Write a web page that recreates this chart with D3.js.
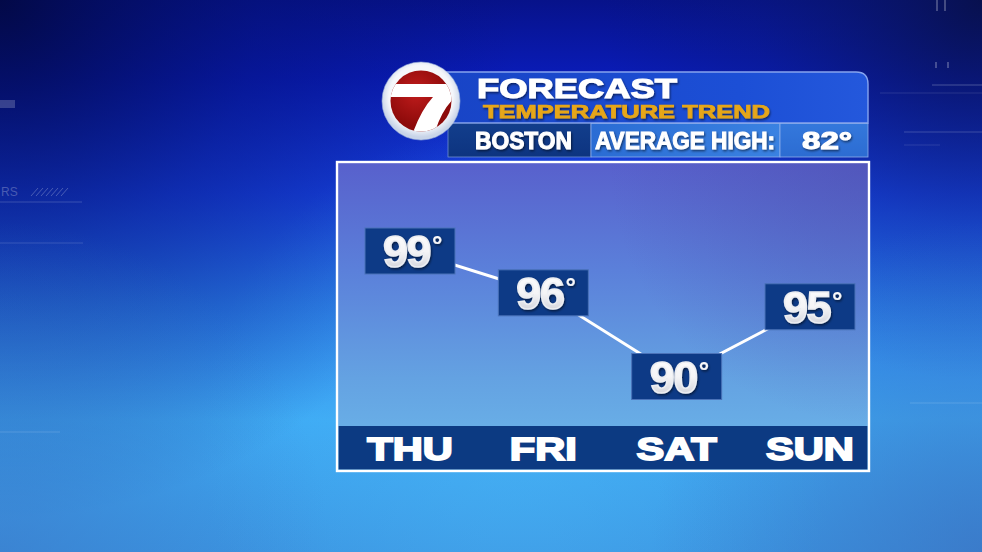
<!DOCTYPE html>
<html><head><meta charset="utf-8">
<script src="https://cdn.jsdelivr.net/npm/d3@7/dist/d3.min.js"></script>
<style>html,body{margin:0;padding:0;background:#0a1a90;overflow:hidden}svg{display:block}</style>
</head><body>
<svg id="c" width="982" height="552"></svg>
<script>
// ---- data ----
const days = ["THU", "FRI", "SAT", "SUN"];
const highs = [99, 96, 90, 95];
const city = "BOSTON";
const averageHighLabel = "AVERAGE HIGH:";
const averageHigh = 82;
const titleMain = "FORECAST";
const titleSub = "TEMPERATURE TREND";

const svg = d3.select("#c");
const defs = svg.append("defs");
const FONT = "'Liberation Sans', Arial, sans-serif";

function lin(id, x1, y1, x2, y2, stops) {
  const g = defs.append("linearGradient").attr("id", id)
    .attr("x1", x1).attr("y1", y1).attr("x2", x2).attr("y2", y2);
  stops.forEach(s => g.append("stop").attr("offset", s[0]).attr("stop-color", s[1]).attr("stop-opacity", s[2] == null ? 1 : s[2]));
  return g;
}
function rad(id, cx, cy, r, stops) {
  const g = defs.append("radialGradient").attr("id", id).attr("gradientUnits", "userSpaceOnUse")
    .attr("cx", cx).attr("cy", cy).attr("r", r);
  stops.forEach(s => g.append("stop").attr("offset", s[0]).attr("stop-color", s[1]).attr("stop-opacity", s[2] == null ? 1 : s[2]));
  return g;
}

lin("bg", 0, 0, 0, 1, [[0, "#07128a"], [0.14, "#0a1cb8"], [0.35, "#1844e4"], [0.55, "#2a7cea"], [0.76, "#3eaaf4"], [1, "#3c96e2"]]);
rad("tl", 0, 0, 520, [[0, "#020840", 0.9], [0.5, "#031070", 0.45], [1, "#031070", 0]]);
rad("tr", 982, 0, 380, [[0, "#081048", 0.9], [0.6, "#0a1a70", 0.3], [1, "#0a1a70", 0]]);
rad("br", 982, 552, 330, [[0, "#3a70c0", 0.7], [1, "#3a70c0", 0]]);
rad("bl", 0, 552, 330, [[0, "#3a78c8", 0.6], [1, "#3a78c8", 0]]);
rad("glow", 520, 440, 320, [[0, "#4ab8f8", 0.5], [1, "#4ab8f8", 0]]);
lin("panel", 0, 0, 0, 1, [[0, "#5860cc"], [0.35, "#5b80da"], [0.7, "#64a2e2"], [1, "#6cb8ea"]]);
rad("panelTR", 869, 163, 260, [[0, "#4a4aa8", 0.45], [1, "#4a4aa8", 0]]);
lin("banner", 0, 0, 1, 0, [[0, "#1844c6"], [0.7, "#1c4fd6"], [1, "#2458dc"]]);
lin("avg", 0, 0, 1, 0, [[0, "#2a6cd4"], [1, "#3a82e2"]]);
lin("avgVal", 0, 0, 0, 1, [[0, "#3478dc"], [1, "#2c6cd2"]]);
lin("boston", 0, 0, 0, 1, [[0, "#123e8c"], [1, "#0d3480"]]);
lin("numTxt", 0, 0, 0, 1, [[0, "#ffffff"], [0.5, "#f4f4f6"], [1, "#c4c6d0"]]);
rad("logoWhite", 421, 97, 40, [[0, "#ffffff"], [0.8, "#f4f6fa"], [1, "#c8d4e8"]]);
rad("logoRed", 416, 92, 34, [[0, "#c01c1c"], [1, "#8c0a0a"]]);

const sh = defs.append("filter").attr("id", "shadow").attr("x", "-20%").attr("y", "-20%").attr("width", "140%").attr("height", "140%");
sh.append("feDropShadow").attr("dx", 1).attr("dy", 1.5).attr("stdDeviation", 1).attr("flood-color", "#000").attr("flood-opacity", 0.55);

defs.append("clipPath").attr("id", "logoClip").append("circle").attr("cx", 421).attr("cy", 101).attr("r", 30.5);

// ---- background ----
svg.append("rect").attr("width", 982).attr("height", 552).attr("fill", "url(#bg)");
svg.append("rect").attr("width", 982).attr("height", 552).attr("fill", "url(#glow)");
svg.append("rect").attr("width", 982).attr("height", 552).attr("fill", "url(#tl)");
svg.append("rect").attr("width", 982).attr("height", 552).attr("fill", "url(#tr)");
svg.append("rect").attr("width", 982).attr("height", 552).attr("fill", "url(#br)");
svg.append("rect").attr("width", 982).attr("height", 552).attr("fill", "url(#bl)");

// faint decorative lines
const deco = svg.append("g").attr("stroke", "#ffffff").attr("fill", "none");
[[0, 202, 82, 202, 0.18], [0, 243, 83, 243, 0.15], [0, 432, 60, 432, 0.15], [932, 85, 982, 85, 0.25], [904, 132, 982, 132, 0.2], [904, 145, 940, 145, 0.12],
 [880, 93, 982, 93, 0.12], [910, 403, 982, 403, 0.15]].forEach(l =>
  deco.append("line").attr("x1", l[0]).attr("y1", l[1]).attr("x2", l[2]).attr("y2", l[3]).attr("stroke-opacity", l[4]).attr("stroke-width", 1.2));
[[937, 0, 937, 11], [945, 0, 945, 11], [936, 62, 936, 68], [948, 62, 948, 68]].forEach(l =>
  deco.append("line").attr("x1", l[0]).attr("y1", l[1]).attr("x2", l[2]).attr("y2", l[3]).attr("stroke-opacity", 0.35).attr("stroke-width", 1.4));
deco.append("rect").attr("x", 0).attr("y", 100).attr("width", 15).attr("height", 8).attr("fill", "#ffffff").attr("fill-opacity", 0.2).attr("stroke", "none");
for (let i = 0; i < 7; i++) deco.append("line").attr("x1", 31 + i * 5).attr("y1", 196).attr("x2", 38 + i * 5).attr("y2", 188).attr("stroke-opacity", 0.25);
deco.append("text").attr("x", 1).attr("y", 196).attr("font-family", FONT).attr("font-size", 12).attr("fill", "#ffffff").attr("fill-opacity", 0.25).attr("stroke", "none").text("RS");

// ---- chart panel ----
const panel = {x: 337, y: 162, w: 532, h: 309};
svg.append("rect").attr("x", panel.x).attr("y", panel.y).attr("width", panel.w).attr("height", panel.h).attr("fill", "url(#panel)");
svg.append("rect").attr("x", panel.x).attr("y", panel.y).attr("width", panel.w).attr("height", 264).attr("fill", "url(#panelTR)");
const barTop = 426;
svg.append("rect").attr("x", panel.x + 1.5).attr("y", barTop).attr("width", panel.w - 3).attr("height", panel.y + panel.h - barTop - 1.5).attr("fill", "#0c3a82");
svg.append("rect").attr("x", panel.x).attr("y", panel.y).attr("width", panel.w).attr("height", panel.h)
  .attr("fill", "none").attr("stroke", "#ffffff").attr("stroke-width", 2.4);

// scales
const x = d3.scalePoint().domain(days).range([410, 810]);
const y = d3.scaleLinear().domain([90, 99]).range([376.5, 251]);
const data = days.map((d, i) => ({day: d, t: highs[i]}));

// connecting line
svg.append("path").datum(data)
  .attr("d", d3.line().x(d => x(d.day)).y(d => y(d.t)))
  .attr("fill", "none").attr("stroke", "#ffffff").attr("stroke-width", 3);

// value boxes
const bw = 90, bh = 46;
const g = svg.selectAll("g.pt").data(data).join("g").attr("class", "pt")
  .attr("transform", d => `translate(${x(d.day)},${y(d.t)})`);
g.append("rect").attr("x", -bw / 2).attr("y", -bh / 2).attr("width", bw).attr("height", bh)
  .attr("fill", "#0d3a86").attr("stroke", "#4a72b8").attr("stroke-width", 1);
const vt = g.append("text").attr("x", 2).attr("y", 16).attr("text-anchor", "middle")
  .attr("font-family", FONT).attr("font-weight", "bold").attr("font-size", 45)
  .attr("fill", "url(#numTxt)").attr("stroke", "#eceef2").attr("stroke-width", 1.6)
  .attr("letter-spacing", -1.5).attr("filter", "url(#shadow)");
vt.append("tspan").text(d => d.t);
vt.append("tspan").attr("font-size", 26).attr("dy", -13).attr("dx", 2).attr("stroke-width", 0.2).text("°");

// day labels
svg.selectAll("text.day").data(days).join("text").attr("class", "day")
  .attr("x", d => x(d)).attr("y", 460).attr("text-anchor", "middle")
  .attr("font-family", FONT).attr("font-weight", "bold").attr("font-size", 32)
  .attr("fill", "#ffffff").attr("stroke", "#ffffff").attr("stroke-width", 1.8)
  .text(d => d)
  .each(function () { const w = this.getComputedTextLength(); d3.select(this).attr("textLength", w * 1.3).attr("lengthAdjust", "spacingAndGlyphs"); });

// ---- header ----
const hdr = svg.append("g");
hdr.append("path")
  .attr("d", "M440,72 L856,72 Q868,72 868,84 L868,123 L440,123 Z")
  .attr("fill", "url(#banner)").attr("stroke", "#86a4ee").attr("stroke-width", 1.4);
// second row cells
hdr.append("rect").attr("x", 448).attr("y", 123.5).attr("width", 143).attr("height", 33.5).attr("fill", "url(#boston)").attr("stroke", "#6f8fd0").attr("stroke-width", 0.8);
hdr.append("rect").attr("x", 591).attr("y", 123.5).attr("width", 189).attr("height", 33.5).attr("fill", "url(#avg)").attr("stroke", "#8fb0ec").attr("stroke-width", 0.8);
hdr.append("rect").attr("x", 780).attr("y", 123.5).attr("width", 88).attr("height", 33.5).attr("fill", "url(#avgVal)").attr("stroke", "#8fb0ec").attr("stroke-width", 0.8);

function htext(t, xx, yy, size, len, fill) {
  hdr.append("text").attr("x", xx).attr("y", yy).attr("font-family", FONT).attr("font-weight", "bold")
    .attr("font-size", size).attr("fill", fill).attr("stroke", fill).attr("stroke-width", size / 24)
    .attr("textLength", len).attr("lengthAdjust", "spacingAndGlyphs").attr("filter", "url(#shadow)").text(t);
}
htext(titleMain, 477, 98, 28, 200, "#ffffff");
htext(titleSub, 483, 118, 18, 287, "#e6a61a");
htext(city, 475, 149, 24, 97, "#ffffff");
htext(averageHighLabel, 595, 149, 24, 180, "#ffffff");
htext(averageHigh + "°", 802, 149, 24, 50, "#ffffff");

// logo
const logo = svg.append("g");
logo.append("circle").attr("cx", 421).attr("cy", 101).attr("r", 39).attr("fill", "url(#logoWhite)").attr("stroke", "#9fb4dc").attr("stroke-width", 0.6);
logo.append("circle").attr("cx", 421).attr("cy", 101).attr("r", 30.5).attr("fill", "url(#logoRed)");
logo.append("path").attr("clip-path", "url(#logoClip)").attr("fill", "#ffffff")
  .attr("d", "M380,84 L462,84 L462,92 Q443,104 434,135 L412,135 Q421,110 433,97 L380,97 Z");
</script>
</body></html>
